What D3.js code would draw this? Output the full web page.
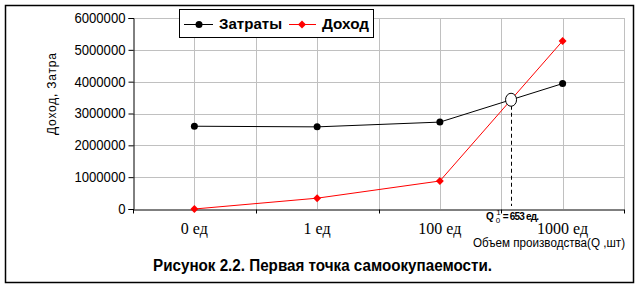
<!DOCTYPE html>
<html><head><meta charset="utf-8">
<script src="https://cdn.jsdelivr.net/npm/d3@7"></script>
<style>body{margin:0;background:#fff}svg{display:block}</style>
</head><body><svg id="c" width="640" height="287"></svg>
<script>
const categories = ["0 ед", "1 ед", "100 ед", "1000 ед"];
const costs = [2600000, 2580000, 2730000, 3940000];     // Затраты
const income = [0, 340000, 880000, 5280000];            // Доход
const yTicks = [0, 1000000, 2000000, 3000000, 4000000, 5000000, 6000000];
const seriesNames = ["Затраты", "Доход"];
const yTitle = "Доход, Затра";
const xTitle = "Объем производства(Q ,шт)";
const caption = "Рисунок 2.2. Первая точка самоокупаемости.";
const breakEvenLabel = "653 ед.";

const svg = d3.select("#c");
const L = 133, R = 624, T = 18, B = 209;
const x = d3.scaleBand().domain(categories).range([L, R]).paddingInner(0).paddingOuter(0);
const cx = d => x(d) + x.bandwidth() / 2;
const y = d3.scaleLinear().domain([0, 6000000]).range([B, T]);

// outer frame
svg.append("rect").attr("x", 5.5).attr("y", 5.5).attr("width", 628).attr("height", 277)
  .attr("fill", "#fff").attr("stroke", "#000").attr("stroke-width", 1.5);

// grid
const g = svg.append("g");
yTicks.filter(v => v > 0).forEach(v => {
  g.append("line").attr("x1", L).attr("x2", R).attr("y1", Math.round(y(v)) + 0.5).attr("y2", Math.round(y(v)) + 0.5)
    .attr("stroke", "#c0c0c0");
});
const vx = [];
categories.forEach(c => { vx.push(cx(c)); vx.push(x(c) + x.bandwidth()); });
vx.forEach(v => {
  g.append("line").attr("x1", Math.round(v) + 0.5).attr("x2", Math.round(v) + 0.5).attr("y1", T).attr("y2", B)
    .attr("stroke", "#c0c0c0");
});

// axes
const yAxis = d3.axisLeft(y).tickValues(yTicks).tickSize(5).tickPadding(3).tickFormat(d3.format("d"));
const ya = svg.append("g").attr("transform", `translate(${L + 0.5},0)`).call(yAxis);
ya.select(".domain").attr("stroke", "#000");
ya.selectAll("text").attr("font-family", "Liberation Sans, Arial, sans-serif").attr("font-size", 14)
  .attr("fill", "#000")
  .each(function(d) { const s = String(d).length; d3.select(this).attr("textLength", s * 7.3).attr("lengthAdjust", "spacingAndGlyphs"); });

const xa = svg.append("g").attr("transform", `translate(0,${B + 0.5})`)
  .call(d3.axisBottom(x).tickSize(0).tickFormat(""));
xa.select(".domain").attr("stroke", "#000");
// ticks at category boundaries
[L, ...categories.map(c => x(c) + x.bandwidth())].forEach(v => {
  xa.append("line").attr("x1", Math.round(v) + 0.5).attr("x2", Math.round(v) + 0.5).attr("y1", 0).attr("y2", 4).attr("stroke", "#000");
});
categories.forEach(c => {
  svg.append("text").attr("x", cx(c)).attr("y", 234).attr("text-anchor", "middle")
    .attr("font-family", "Liberation Serif, Times New Roman, serif").attr("font-size", 16).text(c);
});

// titles
svg.append("text").attr("transform", "translate(56,94) rotate(-90)").attr("text-anchor", "middle")
  .attr("textLength", 82).attr("lengthAdjust", "spacing")
  .attr("font-family", "Liberation Sans, Arial, sans-serif").attr("font-size", 12).text(yTitle);
svg.append("text").attr("x", 473).attr("y", 247).attr("textLength", 152).attr("lengthAdjust", "spacingAndGlyphs")
  .attr("font-family", "Liberation Sans, Arial, sans-serif").attr("font-size", 12).text(xTitle);
svg.append("text").attr("x", 153).attr("y", 271).attr("textLength", 339).attr("lengthAdjust", "spacingAndGlyphs")
  .attr("font-family", "Liberation Sans, Arial, sans-serif").attr("font-size", 16).attr("font-weight", "bold").text(caption);

// series
const line = d3.line().x((d, i) => cx(categories[i])).y(d => y(d));
svg.append("path").datum(costs).attr("d", line).attr("fill", "none").attr("stroke", "#000").attr("stroke-width", 1);
svg.append("path").datum(income).attr("d", line).attr("fill", "none").attr("stroke", "#f00").attr("stroke-width", 1);
svg.selectAll(".cm").data(costs).enter().append("circle")
  .attr("cx", (d, i) => cx(categories[i])).attr("cy", d => y(d)).attr("r", 3.5).attr("fill", "#000");
const diamond = d3.symbol().type(d3.symbolDiamond2).size(40);
svg.selectAll(".im").data(income).enter().append("path").attr("d", diamond)
  .attr("transform", (d, i) => `translate(${cx(categories[i])},${y(d)})`).attr("fill", "#f00");

// break-even point (intersection of the two segments between last two categories)
const x0 = cx(categories[2]), x1 = cx(categories[3]);
const c0 = y(costs[2]), c1 = y(costs[3]), r0 = y(income[2]), r1 = y(income[3]);
const t = (c0 - r0) / ((r1 - r0) - (c1 - c0));
const ix = x0 + t * (x1 - x0), iy = c0 + t * (c1 - c0);
svg.append("line").attr("x1", Math.round(ix) + 0.5).attr("x2", Math.round(ix) + 0.5).attr("y1", iy + 6).attr("y2", B - 3)
  .attr("stroke", "#000").attr("stroke-dasharray", "4,3");
svg.append("ellipse").attr("cx", ix).attr("cy", iy).attr("rx", 5.5).attr("ry", 6.5)
  .attr("fill", "#fff").attr("stroke", "#000").attr("stroke-width", 1);

const ql = svg.append("text").attr("x", 486).attr("y", 220).attr("font-family", "Liberation Sans, Arial, sans-serif")
  .attr("font-weight", "bold").attr("font-size", 10);
ql.append("tspan").text("Q");
ql.append("tspan").attr("font-size", 8).attr("dy", 3).attr("dx", 2).attr("font-weight", "normal").text("0");
ql.append("tspan").attr("font-size", 8).attr("dy", -8).attr("dx", -4).attr("font-weight", "normal").text("1");
ql.append("tspan").attr("dy", 5).attr("dx", 2).attr("letter-spacing", -0.8).text("= " + breakEvenLabel);

// legend
const lg = svg.append("g");
lg.append("rect").attr("x", 179.5).attr("y", 9.5).attr("width", 194).attr("height", 28).attr("fill", "#fff").attr("stroke", "#000");
lg.append("line").attr("x1", 184).attr("x2", 213).attr("y1", 24.5).attr("y2", 24.5).attr("stroke", "#000");
lg.append("circle").attr("cx", 199).attr("cy", 24.5).attr("r", 3.5).attr("fill", "#000");
lg.append("text").attr("x", 219).attr("y", 29).attr("textLength", 63).attr("lengthAdjust", "spacingAndGlyphs")
  .attr("font-family", "Liberation Sans, Arial, sans-serif").attr("font-size", 14).attr("font-weight", "bold").text(seriesNames[0]);
lg.append("line").attr("x1", 289).attr("x2", 316).attr("y1", 24.5).attr("y2", 24.5).attr("stroke", "#f00");
lg.append("path").attr("d", diamond).attr("transform", "translate(302,24.5)").attr("fill", "#f00");
lg.append("text").attr("x", 322).attr("y", 29).attr("textLength", 47).attr("lengthAdjust", "spacingAndGlyphs")
  .attr("font-family", "Liberation Sans, Arial, sans-serif").attr("font-size", 14).attr("font-weight", "bold").text(seriesNames[1]);
</script></body></html>
